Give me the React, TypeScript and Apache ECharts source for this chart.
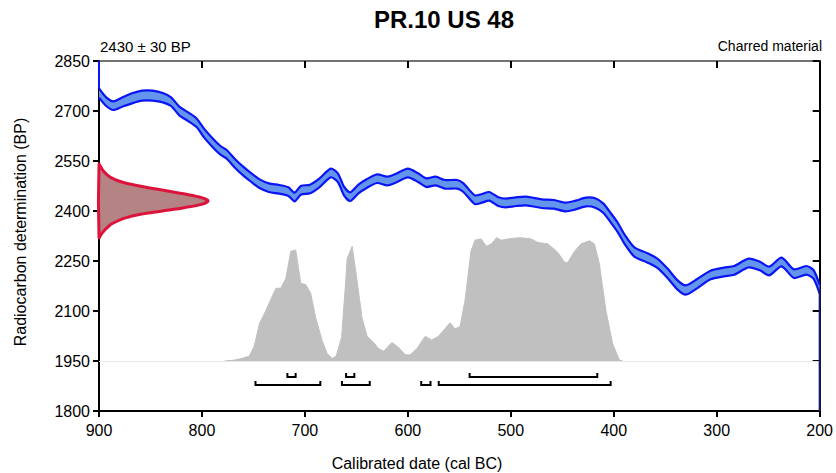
import React, { useEffect, useRef } from "react";
import * as echarts from "echarts";

const chartTitle = "PR.10 US 48";
const dateLabel = "2430 ± 30 BP";
const materialLabel = "Charred material";
const xAxisName = "Calibrated date (cal BC)";
const yAxisName = "Radiocarbon determination (BP)";

const xMin = 200;
const xMax = 900;
const xStep = 100;
const yMin = 1800;
const yMax = 2850;
const yStep = 150;

// Calibration curve (cal BC, BP, 1 sigma)
const curveYears = [900, 893, 886, 878, 868, 858, 848, 838, 830, 822, 813, 805, 798, 790, 782, 776, 768, 760, 752, 744, 735, 725, 716, 710, 704, 695, 686, 675, 668, 662, 656, 648, 640, 630, 620, 612, 600, 590, 582, 573, 564, 552, 546, 535, 528, 521, 512, 505, 495, 485, 470, 458, 447, 437, 427, 418, 410, 403, 396, 389, 380, 367, 358, 348, 338, 330, 319, 306, 293, 283, 269, 258, 249, 237, 225, 213, 206, 200];
const curveBP = [2754, 2728, 2716, 2726, 2738, 2746, 2746, 2740, 2728, 2700, 2682, 2664, 2634, 2606, 2582, 2570, 2543, 2520, 2500, 2482, 2470, 2465, 2458, 2442, 2462, 2466, 2484, 2514, 2500, 2460, 2443, 2466, 2482, 2497, 2490, 2498, 2514, 2500, 2485, 2490, 2480, 2480, 2470, 2434, 2438, 2444, 2428, 2424, 2428, 2430, 2422, 2420, 2412, 2418, 2427, 2424, 2408, 2380, 2350, 2313, 2277, 2259, 2244, 2214, 2178, 2163, 2182, 2208, 2217, 2222, 2244, 2235, 2220, 2247, 2212, 2222, 2210, 2165];
const curveSigma = [14, 13, 13, 14, 15, 15, 15, 14, 13, 13, 13, 13, 13, 13, 13, 13, 13, 13, 13, 13, 13, 13, 13, 13, 13, 13, 13, 13, 13, 13, 13, 13, 13, 13, 13, 13, 13, 13, 13, 13, 13, 13, 13, 13, 13, 13, 13, 13, 13, 13, 13, 13, 13, 13, 13, 14, 14, 14, 14, 14, 14, 14, 14, 14, 14, 14, 14, 13, 13, 13, 13, 13, 13, 13, 13, 13, 13, 13];

// Radiocarbon measurement distribution (BP, relative probability)
const redBP = [2540, 2530, 2520, 2510, 2500, 2490, 2480, 2470, 2460, 2450, 2440, 2431, 2420, 2410, 2400, 2390, 2380, 2370, 2360, 2350, 2340, 2330, 2320];
const redProb = [0, 0.02, 0.04, 0.07, 0.11, 0.18, 0.29, 0.45, 0.63, 0.8, 0.94, 1.0, 0.94, 0.78, 0.58, 0.38, 0.25, 0.17, 0.11, 0.075, 0.045, 0.02, 0];
const redPeakYears = 106;

// Calibrated distribution (cal BC, relative probability)
const grayYears = [778, 768, 760.8, 754, 749.2, 744.3, 737.9, 728.2, 723.4, 718.5, 713.7, 708.9, 704, 699.2, 694.4, 689.5, 683.1, 678.3, 673.5, 669.6, 664.4, 660.5, 659, 654.1, 649.3, 644.5, 639.6, 633.2, 628.3, 623.5, 615.5, 609, 602.5, 597.7, 591.3, 583.2, 576.8, 570.3, 559, 554.2, 549.3, 544.5, 538.7, 534.8, 529, 523.6, 518.8, 513.9, 509.1, 502.6, 491.3, 480.1, 473.6, 464, 454.3, 447.8, 444.6, 438.1, 431.8, 423.6, 418.8, 414, 407.6, 401.1, 394.6, 391.4];
const grayProb = [0, 0.008, 0.022, 0.04, 0.12, 0.3, 0.41, 0.59, 0.59, 0.67, 0.89, 0.9, 0.63, 0.62, 0.55, 0.35, 0.16, 0.06, 0.02, 0.04, 0.19, 0.63, 0.83, 0.93, 0.65, 0.35, 0.2, 0.15, 0.1, 0.08, 0.15, 0.11, 0.05, 0.05, 0.1, 0.2, 0.17, 0.2, 0.31, 0.26, 0.28, 0.49, 0.89, 0.98, 0.99, 0.93, 0.95, 1.0, 0.98, 0.99, 1.0, 0.99, 0.96, 0.95, 0.88, 0.8, 0.8, 0.89, 0.95, 0.975, 0.95, 0.79, 0.41, 0.14, 0.01, 0];
const grayBase = 1950;
const grayPeakBP = 370;

// Highest probability ranges (cal BC)
const range68 = [[717, 709], [660, 652], [540, 416]];
const range95 = [[748, 685], [664, 637], [587, 578], [570, 403]];

const FONT = "'Liberation Sans', Arial, Helvetica, sans-serif";

export default function App() {
  const ref = useRef<HTMLDivElement | null>(null);

  useEffect(() => {
    if (!ref.current) return;
    const chart = echarts.init(ref.current, undefined, { renderer: "svg" });

    const curveData = curveYears.map((y, i) => [y, curveBP[i], curveSigma[i]]);
    const redData = redBP.map((b, i) => [xMax - redProb[i] * redPeakYears, b]);
    const grayData = grayYears.map((y, i) => [y, grayBase + grayProb[i] * grayPeakBP]);
    const bracketData: number[][] = [];
    range68.forEach((r) => bracketData.push([r[0], r[1], 0]));
    range95.forEach((r) => bracketData.push([r[0], r[1], 1]));

    const plain = (v: number) => String(v);

    const option: any = {
      animation: false,
      grid: { left: 99, right: 13, top: 61, bottom: 62, containLabel: false },
      xAxis: [
        {
          type: "value", min: xMin, max: xMax, interval: xStep, inverse: true, position: "bottom",
          axisLine: { show: true, onZero: false, lineStyle: { color: "#000", width: 2 } },
          axisTick: { show: true, length: 6, lineStyle: { color: "#000", width: 2 } },
          axisLabel: { color: "#000", fontSize: 16, margin: 11, fontFamily: FONT, formatter: plain },
          splitLine: { show: false },
        },
        {
          type: "value", min: xMin, max: xMax, interval: xStep, inverse: true, position: "top",
          axisLine: { show: true, onZero: false, lineStyle: { color: "#444", width: 1.5 } },
          axisTick: { show: true, inside: true, length: 7, lineStyle: { color: "#000", width: 2 } },
          axisLabel: { show: false },
          splitLine: { show: false },
        },
      ],
      yAxis: [
        {
          type: "value", min: yMin, max: yMax, interval: yStep, position: "left",
          axisLine: { show: true, onZero: false, lineStyle: { color: "#000", width: 2 } },
          axisTick: { show: true, length: 6, lineStyle: { color: "#000", width: 2 } },
          axisLabel: { color: "#000", fontSize: 16, margin: 9, fontFamily: FONT, formatter: plain },
          splitLine: { show: false },
        },
        {
          type: "value", min: yMin, max: yMax, interval: yStep, position: "right",
          axisLine: { show: true, onZero: false, lineStyle: { color: "#000", width: 2 } },
          axisTick: { show: true, inside: true, length: 7, lineStyle: { color: "#000", width: 2 } },
          axisLabel: { show: false },
          splitLine: { show: false },
        },
      ],
      series: [
        {
          type: "line",
          data: grayData,
          showSymbol: false,
          symbol: "none",
          z: 1,
          lineStyle: { width: 1, color: "#c0c0c0" },
          itemStyle: { color: "#c0c0c0" },
          areaStyle: { color: "#c0c0c0", opacity: 1, origin: grayBase },
          markLine: {
            silent: true,
            symbol: "none",
            label: { show: false },
            lineStyle: { color: "#e8e8e8", type: "solid", width: 1 },
            data: [{ yAxis: grayBase }],
          },
        },
        {
          type: "custom",
          data: curveData,
          encode: { x: 0, y: 1 },
          z: 3,
          renderItem: (params: any, api: any) => {
            if (params.dataIndex !== 0) return null;
            const up = curveData.map((d) => api.coord([d[0], d[1] + d[2]]));
            const lo = curveData.map((d) => api.coord([d[0], d[1] - d[2]]));
            const poly = up.concat(lo.slice().reverse());
            return {
              type: "group",
              children: [
                { type: "polygon", shape: { points: poly, smooth: 0 }, style: { fill: "#6495ed", stroke: "none" } },
                { type: "polyline", shape: { points: up, smooth: 0.25 }, style: { fill: "none", stroke: "#0a14f5", lineWidth: 2.2 } },
                { type: "polyline", shape: { points: lo, smooth: 0.25 }, style: { fill: "none", stroke: "#0a14f5", lineWidth: 2.2 } },
              ],
            };
          },
        },
        {
          type: "custom",
          data: redData,
          encode: { x: 0, y: 1 },
          z: 4,
          renderItem: (params: any, api: any) => {
            if (params.dataIndex !== 0) return null;
            const pts = redData.map((d) => api.coord(d));
            return {
              type: "polygon",
              shape: { points: pts, smooth: 0.3 },
              style: { fill: "#b58383", stroke: "#dc143c", lineWidth: 3, lineJoin: "round" },
            };
          },
        },
        {
          type: "custom",
          data: bracketData,
          encode: { x: [0, 1] },
          z: 4,
          renderItem: (params: any, api: any) => {
            const a = api.coord([api.value(0), grayBase]);
            const b = api.coord([api.value(1), grayBase]);
            const y = a[1] + 16 + api.value(2) * 8;
            return {
              type: "polyline",
              shape: { points: [[a[0], y - 4], [a[0], y], [b[0], y], [b[0], y - 4]] },
              style: { fill: "none", stroke: "#000", lineWidth: 2 },
            };
          },
        },
        {
          type: "line",
          data: [[xMin, curveBP[curveBP.length - 1]], [xMin, yMin]],
          showSymbol: false,
          symbol: "none",
          z: 5,
          lineStyle: { color: "#1c1c70", width: 2 },
        },
        {
          type: "line",
          data: [[xMax, yMax], [xMax, curveBP[0] + curveSigma[0]]],
          showSymbol: false,
          symbol: "none",
          z: 5,
          lineStyle: { color: "#0a14f5", width: 2 },
        },
      ],
      graphic: [
        { type: "text", x: 444, y: 19, style: { text: chartTitle, font: `bold 24px ${FONT}`, fill: "#000", textAlign: "center", textVerticalAlign: "middle" } },
        { type: "text", x: 100, y: 46, style: { text: dateLabel, font: `15px ${FONT}`, fill: "#000", textAlign: "left", textVerticalAlign: "middle" } },
        { type: "text", x: 822, y: 46, style: { text: materialLabel, font: `14px ${FONT}`, fill: "#000", textAlign: "right", textVerticalAlign: "middle" } },
        { type: "text", x: 417, y: 463, style: { text: xAxisName, font: `16px ${FONT}`, fill: "#000", textAlign: "center", textVerticalAlign: "middle" } },
        { type: "text", x: 20, y: 232, rotation: Math.PI / 2, style: { text: yAxisName, font: `16px ${FONT}`, fill: "#000", textAlign: "center", textVerticalAlign: "middle" } },
      ],
    };

    chart.setOption(option);
    return () => chart.dispose();
  }, []);

  return <div ref={ref} style={{ width: 836, height: 473, position: "absolute", left: 0, top: 0, background: "#fff" }} />;
}
